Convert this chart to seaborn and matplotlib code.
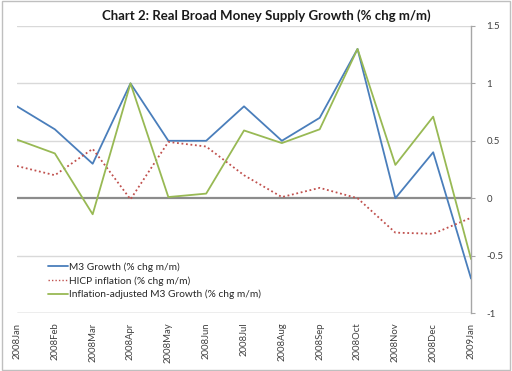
import matplotlib
matplotlib.use("Agg")
import matplotlib.pyplot as plt
import matplotlib.patches as patches
import pandas as pd
import seaborn as sns

# Data
months = ['2008Jan', '2008Feb', '2008Mar', '2008Apr', '2008May', '2008Jun', '2008Jul',
          '2008Aug', '2008Sep', '2008Oct', '2008Nov', '2008Dec', '2009Jan']
m3_growth = [0.8, 0.6, 0.3, 1.0, 0.5, 0.5, 0.8, 0.5, 0.7, 1.3, 0.0, 0.4, -0.7]
hicp_inflation = [0.28, 0.2, 0.43, -0.01, 0.49, 0.45, 0.2, 0.01, 0.09, 0.0, -0.3, -0.31, -0.17]
real_m3 = [0.51, 0.39, -0.14, 1.0, 0.01, 0.04, 0.59, 0.48, 0.6, 1.3, 0.29, 0.71, -0.53]
series_names = ['M3 Growth (% chg m/m)', 'HICP inflation (% chg m/m)',
                'Inflation-adjusted M3 Growth (% chg m/m)']
y_ticks = [-1, -0.5, 0, 0.5, 1, 1.5]

df = pd.DataFrame({
    'month': months * 3,
    'pos': list(range(len(months))) * 3,
    'value': m3_growth + hicp_inflation + real_m3,
    'series': [series_names[0]] * len(months) + [series_names[1]] * len(months)
              + [series_names[2]] * len(months),
})

sns.set_style('white')
plt.rcParams['font.family'] = ['Lato', 'DejaVu Sans']

colors = ['#4A7EBB', '#C0504D', '#98B954']

fig = plt.figure(figsize=(5.12, 3.71), dpi=100)
ax = fig.add_axes([0.0332, 0.1563, 0.8868, 0.7737])

# gridlines
for t in y_ticks:
    if t == 0:
        ax.axhline(t, color='#8C8C8C', lw=1.6, zorder=1)
    elif t == -1:
        ax.axhline(t, color='#A6A6A6', lw=1.0, zorder=1)
    else:
        ax.axhline(t, color='#D9D9D9', lw=1.0, zorder=1)

sns.lineplot(data=df, x='pos', y='value', hue='series', style='series',
             palette=colors, dashes=[(None, None), (1, 1.5), (None, None)],
             linewidth=1.3, ax=ax, zorder=3, sort=False)
ax.lines[1].set_linewidth(1.0)

ax.set_xlim(0, len(months) - 1)
ax.set_ylim(-1, 1.5)
ax.set_xticks(range(len(months)))
ax.set_xticklabels(months, rotation=90, fontsize=6.8, color='#404040')
ax.set_yticks(y_ticks)
ax.set_yticklabels(['-1', '-0.5', '0', '0.5', '1', '1.5'], fontsize=7, color='#404040')
ax.yaxis.tick_right()
ax.tick_params(axis='x', direction='out', length=3, color='#A6A6A6', pad=4)
ax.tick_params(axis='y', direction='out', length=3, color='#A6A6A6', pad=8)
ax.set_xlabel('')
ax.set_ylabel('')
for side in ['left', 'top', 'bottom']:
    ax.spines[side].set_visible(False)
ax.spines['right'].set_color('#A6A6A6')
ax.spines['right'].set_linewidth(1.0)

handles, labels = ax.get_legend_handles_labels()
leg = ax.legend(handles, labels, loc='lower left', bbox_to_anchor=(0.05, 0.02),
                frameon=True, fontsize=7.3, handlelength=2.0, handletextpad=0.1,
                labelspacing=0.4, borderpad=0.3)
leg.get_frame().set_facecolor('white')
leg.get_frame().set_edgecolor('none')
leg.get_frame().set_alpha(1.0)
leg.get_lines()[1].set_linewidth(1.0)
for txt in leg.get_texts():
    txt.set_color('#262626')

fig.suptitle('Chart 2: Real Broad Money Supply Growth (% chg m/m)', x=0.52, y=0.975,
             fontsize=9.5, fontweight='bold', color='#1a1a1a')

# chart border
fig.patches.append(patches.Rectangle((0.003, 0.004), 0.994, 0.992, transform=fig.transFigure,
                                     fill=False, edgecolor='#BFBFBF', lw=1.0))

fig.savefig('out.png', dpi=100)
